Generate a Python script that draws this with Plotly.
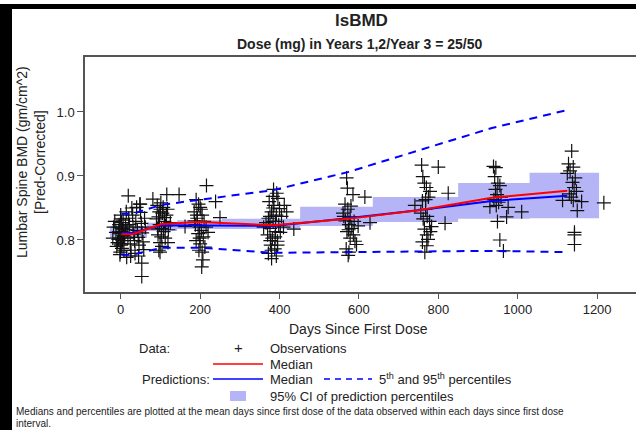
import plotly.graph_objects as go

# mean days since first dose of each days interval
bin_days = [2, 30, 103, 200, 385, 572, 755, 935, 1125]
obs_median = [0.809, 0.809, 0.825, 0.828, 0.823, 0.833, 0.847, 0.866, 0.877]
pred_median = [0.811, 0.811, 0.823, 0.823, 0.822, 0.834, 0.847, 0.861, 0.869]
pred_p95 = [0.841, 0.841, 0.855, 0.863, 0.878, 0.906, 0.941, 0.975, 1.003]
pred_p05 = [0.777, 0.777, 0.788, 0.788, 0.780, 0.781, 0.783, 0.783, 0.781]

# 95% CI of the predicted median, one box per days interval
ci_left = [-27, 66, 142, 255, 452, 635, 850, 1030]
ci_right = [66, 142, 255, 452, 635, 850, 1030, 1205]
ci_low = [0.803, 0.814, 0.817, 0.817, 0.822, 0.828, 0.833, 0.834]
ci_high = [0.822, 0.827, 0.831, 0.833, 0.852, 0.867, 0.889, 0.905]

# observations (day, pred-corrected BMD) per visit
visit_0 = [(0, 0.839), (2, 0.827), (-3, 0.820), (5, 0.816), (1, 0.810), (-2, 0.803), (4, 0.799),
           (0, 0.794), (3, 0.787), (-1, 0.781), (6, 0.831), (-4, 0.824), (2, 0.813), (7, 0.807),
           (-6, 0.801), (1, 0.792), (8, 0.784), (-2, 0.777), (0, 0.833), (3, 0.818), (-5, 0.812),
           (10, 0.805), (-8, 0.796), (12, 0.822), (14, 0.844), (16, 0.816), (18, 0.803), (20, 0.834),
           (22, 0.824), (24, 0.794), (26, 0.784), (28, 0.850), (30, 0.839), (31, 0.820), (33, 0.809),
           (35, 0.799), (36, 0.779), (38, 0.829), (40, 0.851), (42, 0.815), (44, 0.804), (46, 0.792),
           (48, 0.856), (50, 0.843), (52, 0.826), (54, 0.811), (56, 0.797), (58, 0.785), (60, 0.834),
           (62, 0.820), (19, 0.869), (49, 0.856), (53, 0.764), (53, 0.743), (-10, 0.790), (-12, 0.812),
           (15, 0.773), (25, 0.775), (45, 0.775), (-15, 0.829), (-18, 0.820), (-20, 0.803)]
visit_1 = [(81, 0.864), (116, 0.871), (147, 0.871), (92, 0.854), (100, 0.848), (105, 0.842),
           (95, 0.836), (110, 0.829), (98, 0.824), (103, 0.818), (108, 0.813), (94, 0.808),
           (112, 0.803), (99, 0.796), (104, 0.790), (96, 0.784), (99, 0.781), (119, 0.796),
           (115, 0.839), (90, 0.833), (107, 0.851), (101, 0.858), (113, 0.822), (97, 0.844),
           (120, 0.816), (125, 0.827), (93, 0.817), (111, 0.835), (102, 0.805), (118, 0.848)]
visit_2 = [(216, 0.885), (239, 0.860), (250, 0.835), (207, 0.769), (204, 0.758), (162, 0.821),
           (190, 0.863), (196, 0.856), (200, 0.851), (185, 0.844), (205, 0.839), (193, 0.834),
           (210, 0.829), (188, 0.824), (198, 0.820), (203, 0.815), (195, 0.810), (208, 0.805),
           (190, 0.799), (200, 0.794), (212, 0.789), (197, 0.784), (205, 0.781), (192, 0.839),
           (215, 0.820), (186, 0.830), (202, 0.848), (220, 0.812), (199, 0.803)]
visit_3 = [(393, 0.873), (385, 0.879), (418, 0.844), (436, 0.817), (380, 0.771), (372, 0.779),
           (388, 0.786), (378, 0.792), (395, 0.798), (382, 0.803), (370, 0.808), (390, 0.813),
           (376, 0.818), (398, 0.824), (384, 0.829), (372, 0.834), (392, 0.839), (380, 0.844),
           (400, 0.849), (386, 0.854), (374, 0.860), (396, 0.865), (383, 0.868), (405, 0.837),
           (410, 0.820), (366, 0.827), (389, 0.805), (377, 0.799), (402, 0.812), (380, 0.784),
           (392, 0.775), (360, 0.820), (412, 0.854), (384, 0.850), (390, 0.829), (376, 0.837),
           (395, 0.792)]
visit_4 = [(569, 0.897), (571, 0.881), (585, 0.871), (615, 0.867), (628, 0.827), (594, 0.793),
           (573, 0.776), (565, 0.856), (572, 0.848), (560, 0.842), (578, 0.836), (566, 0.830),
           (575, 0.824), (582, 0.818), (570, 0.813), (586, 0.808), (578, 0.803), (590, 0.798),
           (568, 0.786), (575, 0.781), (580, 0.853), (562, 0.837), (588, 0.829), (574, 0.816),
           (598, 0.822)]
visit_5 = [(758, 0.917), (800, 0.914), (761, 0.899), (825, 0.873), (817, 0.826), (779, 0.876),
           (741, 0.854), (783, 0.821), (771, 0.808), (766, 0.781), (771, 0.791), (765, 0.889),
           (770, 0.882), (775, 0.867), (760, 0.861), (768, 0.848), (756, 0.842), (772, 0.837),
           (762, 0.833), (778, 0.829), (765, 0.817), (774, 0.801), (760, 0.797), (780, 0.813),
           (768, 0.863)]
visit_6 = [(939, 0.915), (945, 0.913), (942, 0.899), (950, 0.889), (955, 0.885), (944, 0.879),
           (948, 0.871), (940, 0.863), (952, 0.859), (930, 0.852), (976, 0.851), (1010, 0.844),
           (972, 0.836), (949, 0.829), (955, 0.800), (964, 0.783), (946, 0.854), (958, 0.867)]
visit_7 = [(1136, 0.939), (1128, 0.919), (1140, 0.914), (1132, 0.908), (1145, 0.897), (1138, 0.890),
           (1142, 0.882), (1130, 0.872), (1135, 0.867), (1113, 0.862), (1140, 0.862), (1161, 0.860),
           (1150, 0.846), (1143, 0.812), (1143, 0.808), (1143, 0.793), (1217, 0.858), (1125, 0.904),
           (1148, 0.876)]

obs = visit_0 + visit_1 + visit_2 + visit_3 + visit_4 + visit_5 + visit_6 + visit_7
obs_days = [p[0] for p in obs]
obs_bmd = [p[1] for p in obs]

W, H = 636, 430
L, R, T, B = 85, 0, 57, 138
FONT = "Liberation Sans, Arial, sans-serif"
BLUE = "#0000ff"
CI_FILL = "#b4b4f7"


def px(x):
    return (x - L) / (W - L - R)


def py(y):
    return (H - B - y) / (H - T - B)


fig = go.Figure()

# CI boxes
box_x, box_y = [], []
for l, r, lo, hi in zip(ci_left, ci_right, ci_low, ci_high):
    box_x += [l, r, r, l, l, None]
    box_y += [lo, lo, hi, hi, lo, None]
fig.add_trace(go.Scatter(x=box_x, y=box_y, mode="lines", fill="toself",
                         fillcolor=CI_FILL, line=dict(width=0), hoverinfo="skip"))

fig.add_trace(go.Scatter(x=obs_days, y=obs_bmd, mode="markers",
                         marker=dict(symbol="cross-thin", size=10, color="#111",
                                     line=dict(width=1.2, color="#111"))))

fig.add_trace(go.Scatter(x=bin_days, y=pred_p95, mode="lines",
                         line=dict(color=BLUE, width=2, dash="8px,6px")))
fig.add_trace(go.Scatter(x=bin_days, y=pred_p05, mode="lines",
                         line=dict(color=BLUE, width=2, dash="8px,6px")))
fig.add_trace(go.Scatter(x=bin_days, y=pred_median, mode="lines",
                         line=dict(color=BLUE, width=2)))
fig.add_trace(go.Scatter(x=bin_days, y=obs_median, mode="lines",
                         line=dict(color="#ff0000", width=2)))

ann = []


def text(x, y, s, size=13, anchor="left", **kw):
    ann.append(dict(x=px(x), y=py(y), xref="paper", yref="paper", text=s, showarrow=False,
                    xanchor=anchor, yanchor="middle", font=dict(family=FONT, size=size, color="#222"),
                    **kw))


text(361, 20, "<b>lsBMD</b>", size=17, anchor="center")
text(359, 44, "<b>Dose (mg) in Years 1,2/Year 3 = 25/50</b>", size=14, anchor="center")
text(31, 162, "Lumbar Spine BMD (gm/cm^2)<br>[Pred-Corrected]", size=14, anchor="center",
     textangle=-90)
text(358, 329, "Days Since First Dose", size=14, anchor="center")

text(137, 348, "Data:")
text(238, 347, "+", size=15, anchor="center")
text(268, 348, "Observations")
text(268, 364, "Median")
text(140, 379, "Predictions:")
text(268, 379, "Median")
text(377, 379, "5<sup>th</sup> and 95<sup>th</sup> percentiles")
text(268, 396, "95% CI of prediction percentiles")
text(14, 411, "Medians and percentiles are plotted at the mean days since first dose of the data "
              "observed within each days since first dose", size=10)
text(14, 423, "interval.", size=10)

shapes = [
    dict(type="line", xref="paper", yref="paper", x0=px(213), x1=px(263), y0=py(364), y1=py(364),
         line=dict(color="#ff0000", width=1.5)),
    dict(type="line", xref="paper", yref="paper", x0=px(213), x1=px(263), y0=py(379), y1=py(379),
         line=dict(color=BLUE, width=1.5)),
    dict(type="line", xref="paper", yref="paper", x0=px(324), x1=px(372), y0=py(379), y1=py(379),
         line=dict(color=BLUE, width=1.5, dash="6px,5px")),
    dict(type="rect", xref="paper", yref="paper", x0=px(230), x1=px(246), y0=py(401), y1=py(391),
         fillcolor=CI_FILL, line=dict(width=0)),
    # scanned page border
    dict(type="rect", xref="paper", yref="paper", x0=px(0), x1=px(12), y0=py(430), y1=py(4),
         fillcolor="black", line=dict(width=0)),
    dict(type="rect", xref="paper", yref="paper", x0=px(0), x1=px(636), y0=py(9), y1=py(4),
         fillcolor="black", line=dict(width=0)),
]

fig.update_layout(
    width=W, height=H, margin=dict(l=L, r=R, t=T, b=B),
    paper_bgcolor="white", plot_bgcolor="white", showlegend=False,
    font=dict(family=FONT, size=13, color="#222"),
    annotations=ann, shapes=shapes,
    xaxis=dict(range=[-90, 1298], tickvals=[0, 200, 400, 600, 800, 1000, 1200],
               showgrid=False, zeroline=False, showline=True, linecolor="#555", linewidth=1.5,
               mirror=True, ticks="outside", ticklen=5, tickcolor="#555",
               tickfont=dict(size=13, color="#222")),
    yaxis=dict(range=[0.71875, 1.0859], tickvals=[0.8, 0.9, 1.0], tickformat=".1f",
               showgrid=False, zeroline=False, showline=True, linecolor="#555", linewidth=1.5,
               ticks="outside", ticklen=6, tickcolor="#555",
               tickfont=dict(size=13, color="#222")),
)

fig.write_html("out.html", config={"displayModeBar": False},
               post_script="document.body.style.margin='0';"
                           "document.body.style.overflow='hidden';")
